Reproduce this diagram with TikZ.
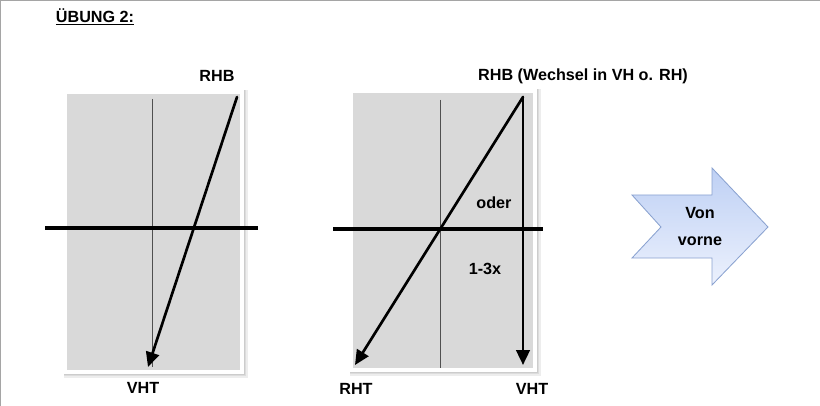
\documentclass[tikz,border=0pt]{standalone}
\usepackage{fontspec}
\setmainfont{Liberation Sans}
\usepackage{xcolor}
\definecolor{panelgray}{RGB}{217, 217, 217}
\definecolor{edgegray}{RGB}{165, 165, 165}
\definecolor{axisgray}{RGB}{80, 80, 80}
\definecolor{arrowblue}{RGB}{190, 208, 244}
\definecolor{arrowlight}{RGB}{236, 241, 253}
\definecolor{arrowedge}{RGB}{138, 162, 208}
\usetikzlibrary{arrows.meta, positioning}

\tikzset{
    label/.style={font=\fontsize{11.5}{13}\selectfont\bfseries, inner sep=1pt},
    axis/.style={line width=2.2pt, black},
    midline/.style={line width=0.6pt, axisgray},
    move/.style={line width=1.9pt, black, -{Triangle[length=10.5pt, width=9.5pt]}, line cap=round},
    shade/.style={black, opacity=0.07},
}

\begin{document}
\begin{tikzpicture}[x=0.025cm, y=-0.025cm]
    \useasboundingbox (0,0) rectangle (820,406);
    \draw[edgegray, line width=0.6pt] (0,0.5) -- (820,0.5);
    \draw[edgegray, line width=0.6pt] (0.5,0) -- (0.5,406);

    \node[label] (title) at (95,17) {\underline{ÜBUNG 2:}};

    % left panel
    \fill[shade] (64,90) rectangle (248,378);
    \fill[shade] (64,90) rectangle (246,376);
    \fill[shade] (64,90) rectangle (245,375);
    \fill[white] (63,90) rectangle (244,374);
    \fill[panelgray] (67,94) rectangle (240,370);
    \coordinate (lmidtop) at (152,99);
    \coordinate (lmidbot) at (152,367);
    \coordinate (laxisl) at (45,228);
    \coordinate (laxisr) at (258,228);
    \coordinate (lstart) at (237,97);
    \coordinate (lend) at (148,367);
    \draw[midline] (lmidtop) -- (lmidbot);
    \draw[axis] (laxisl) -- (laxisr);
    \draw[move] (lstart) -- (lend);
    \node[label] (lrhb) at (217,76) {RHB};
    \node[label] (lvht) at (143,388) {VHT};

    % right panel
    \fill[shade] (350,89) rectangle (541,376);
    \fill[shade] (350,89) rectangle (539,374);
    \fill[shade] (350,89) rectangle (538,373);
    \fill[white] (349,89) rectangle (537,372);
    \fill[panelgray] (353,93) rectangle (533,368);
    \coordinate (rmidtop) at (440,100);
    \coordinate (rmidbot) at (440,368);
    \coordinate (raxisl) at (333,229);
    \coordinate (raxisr) at (543,229);
    \coordinate (rstart) at (523,97);
    \coordinate (rend) at (355,365);
    \coordinate (vend) at (523,365);
    \draw[midline] (rmidtop) -- (rmidbot);
    \draw[axis] (raxisl) -- (raxisr);
    \draw[move] (rstart) -- (rend);
    \draw[move] (rstart) -- (vend);
    \node[label] (rrhb) at (583,76) {RHB (Wechsel in VH o. RH)};
    \node[label] (oder) at (494,203) {oder};
    \node[label] (times) at (485,269) {1-3x};
    \node[label] (rht) at (356,389) {RHT};
    \node[label] (rvht) at (532,389) {VHT};

    % big arrow
    \draw[arrowedge, line width=0.6pt, top color=arrowblue, bottom color=arrowlight]
        (632,195) -- (712,195) -- (712,168) -- (768,227) -- (712,285)
        -- (712,258) -- (632,258) -- (661,227) -- cycle;
    \node[label] (von) at (700,213) {Von};
    \node[label] (vorne) at (700,241) {vorne};
\end{tikzpicture}
\end{document}
